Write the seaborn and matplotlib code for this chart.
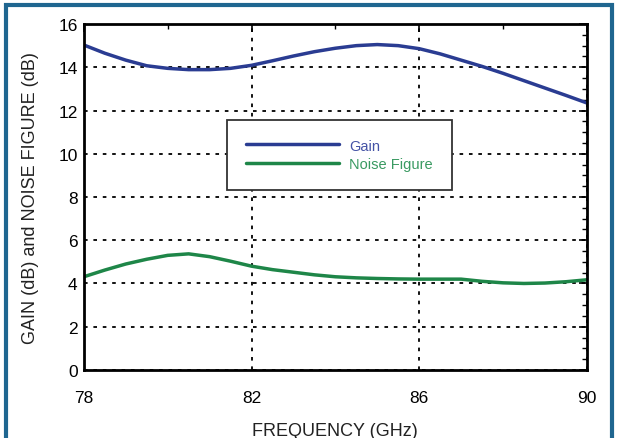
import matplotlib
matplotlib.use("Agg")
import matplotlib.pyplot as plt
from matplotlib.patches import Rectangle
from matplotlib.ticker import MultipleLocator, FixedLocator
import seaborn as sns
import pandas as pd

freq_ghz = [78, 78.5, 79, 79.5, 80, 80.5, 81, 81.5, 82, 82.5, 83, 83.5, 84,
            84.5, 85, 85.5, 86, 86.5, 87, 87.5, 88, 88.5, 89, 89.5, 90]
gain_db = [15.03, 14.65, 14.33, 14.07, 13.95, 13.89, 13.89, 13.95, 14.09, 14.3,
           14.52, 14.72, 14.88, 15.0, 15.05, 15.0, 14.86, 14.62, 14.33, 14.04,
           13.72, 13.38, 13.04, 12.7, 12.35]
nf_db = [4.31, 4.62, 4.9, 5.12, 5.3, 5.37, 5.24, 5.03, 4.8, 4.64, 4.52, 4.4,
         4.31, 4.26, 4.23, 4.21, 4.2, 4.2, 4.2, 4.1, 4.03, 4.0, 4.02, 4.08, 4.17]
series_names = ["Gain", "Noise Figure"]
series_colors = ["#2a3c92", "#1e8648"]
text_colors = ["#4553a6", "#3a9a62"]
x_ticks = [78, 82, 86, 90]
y_ticks = [0, 2, 4, 6, 8, 10, 12, 14, 16]

df = pd.concat([
    pd.DataFrame({"freq": freq_ghz, "value": gain_db, "series": series_names[0]}),
    pd.DataFrame({"freq": freq_ghz, "value": nf_db, "series": series_names[1]}),
])

sns.set_theme(style="white")
plt.rcParams["font.family"] = ["Liberation Sans", "DejaVu Sans"]

fig = plt.figure(figsize=(6.21, 4.39), dpi=100)
fig.patch.set_facecolor("white")
ax = fig.add_axes([0.135, 0.155, 0.81, 0.788])

sns.lineplot(data=df, x="freq", y="value", hue="series",
             palette=dict(zip(series_names, series_colors)),
             linewidth=2.5, ax=ax, legend=True, sort=False)

ax.set_xlim(78, 90)
ax.set_ylim(0, 16)
ax.xaxis.set_major_locator(FixedLocator(x_ticks))
ax.xaxis.set_minor_locator(MultipleLocator(2))
ax.yaxis.set_major_locator(FixedLocator(y_ticks))
ax.yaxis.set_minor_locator(MultipleLocator(0.5))
ax.grid(True, which="major", color="black", linestyle=(0, (2, 3.2)), linewidth=1.3)
ax.tick_params(which="both", direction="in", top=True, right=True, colors="black",
               labelsize=12.5)
ax.tick_params(which="major", length=6, width=1.2)
ax.tick_params(axis="x", which="major", pad=14.5)
ax.tick_params(axis="y", which="major", pad=4.5)
ax.tick_params(which="minor", length=3.5, width=1.0)
for sp in ax.spines.values():
    sp.set_color("black")
    sp.set_linewidth(2.0)
ax.set_axisbelow(True)

ax.set_xlabel("FREQUENCY (GHz)", fontsize=13, color="#222222", labelpad=12)
ax.set_ylabel("GAIN (dB) and NOISE FIGURE (dB)", fontsize=13, color="#222222", labelpad=14)

leg = ax.legend(loc="center", bbox_to_anchor=(0.508, 0.622), fontsize=10.5,
                handlelength=6.4, handletextpad=0.7, borderpad=1.3,
                labelspacing=0.3, frameon=True, fancybox=False, framealpha=1)
leg.get_frame().set_edgecolor("#333333")
leg.get_frame().set_linewidth(1.3)
for txt, c in zip(leg.get_texts(), text_colors):
    txt.set_color(c)
for ln in leg.get_lines():
    ln.set_linewidth(2.5)

fig.patches.append(Rectangle((6 / 621, -0.05), 606 / 621, 1 - 6 / 439 + 0.05,
                             transform=fig.transFigure, fill=False,
                             edgecolor="#1f6690", linewidth=3, zorder=10))

fig.savefig("out.png", dpi=100, facecolor="white")
